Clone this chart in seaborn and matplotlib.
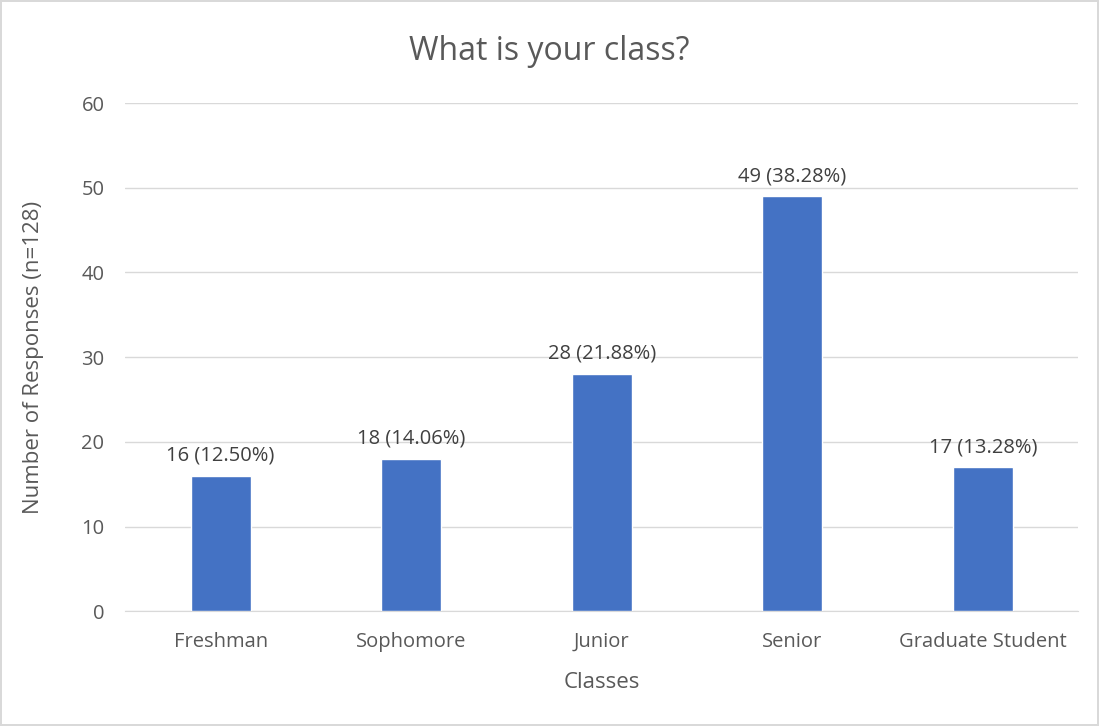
import matplotlib
matplotlib.use("Agg")
import matplotlib.pyplot as plt
import seaborn as sns
import pandas as pd

# datos
classes = ["Freshman", "Sophomore", "Junior", "Senior", "Graduate Student"]
counts = [16, 18, 28, 49, 17]
pct_labels = ["16 (12.50%)", "18 (14.06%)", "28 (21.88%)", "49 (38.28%)", "17 (13.28%)"]
y_ticks = [0, 10, 20, 30, 40, 50, 60]

df = pd.DataFrame({"Class": classes, "Count": counts})

sns.set_style("white")
plt.rcParams["font.family"] = ["Open Sans", "DejaVu Sans"]
txt = "#595959"

fig = plt.figure(figsize=(10.99, 7.26), dpi=100)
fig.patch.set_edgecolor("#D9D9D9")
fig.patch.set_linewidth(1.5)
ax = fig.add_axes([0.114, 0.158, 0.867, 0.700])

sns.barplot(data=df, x="Class", y="Count", color="#4472C4", width=0.315,
            saturation=1, ax=ax, zorder=3)

for i, (v, lab) in enumerate(zip(counts, pct_labels)):
    ax.text(i, v + 1.2, lab, ha="center", va="bottom", fontsize=14.5, color="#404040")

ax.set_ylim(0, 60)
ax.set_yticks(y_ticks)
ax.grid(axis="y", color="#D9D9D9", linewidth=1, zorder=0)
for s in ["top", "right", "left"]:
    ax.spines[s].set_visible(False)
ax.spines["bottom"].set_color("#D9D9D9")
ax.tick_params(axis="y", length=0, labelsize=14.5, labelcolor=txt, pad=15)
ax.tick_params(axis="x", length=0, labelsize=14.5, labelcolor=txt, pad=15)

ax.set_xlabel("Classes", fontsize=16, color=txt, labelpad=14)
ax.set_ylabel("Number of Responses (n=128)", fontsize=16, color=txt, labelpad=27)
fig.suptitle("What is your class?", fontsize=23, color=txt, y=0.952)

fig.savefig("out.png", dpi=100, edgecolor=fig.get_edgecolor())
